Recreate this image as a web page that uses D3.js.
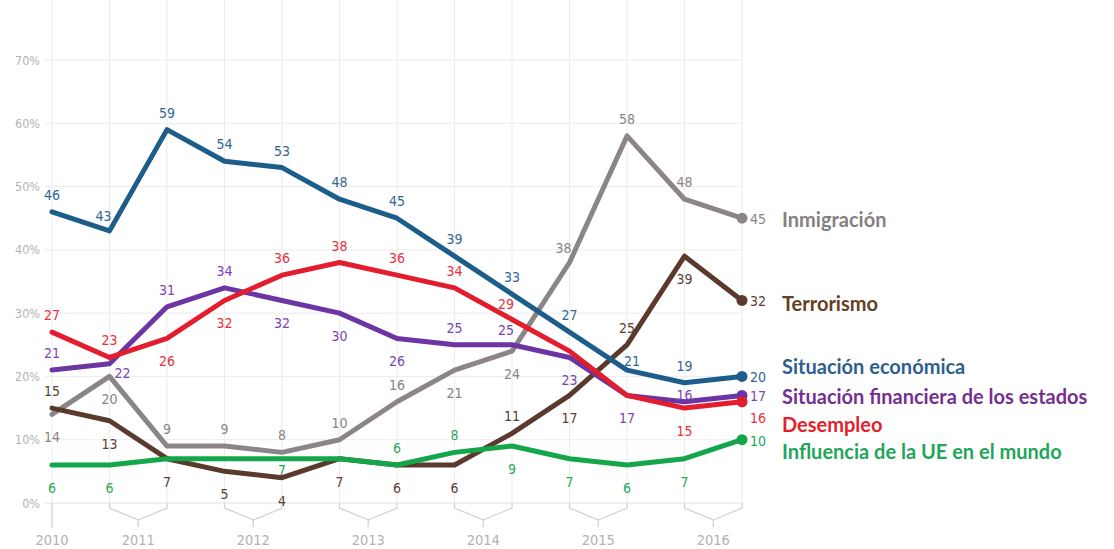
<!DOCTYPE html>
<html>
<head>
<meta charset="utf-8">
<script src="https://cdn.jsdelivr.net/npm/d3@7"></script>
<style>
  html, body { margin: 0; padding: 0; background: #fff; }
  svg { display: block; }
  .num { font-family: "DejaVu Sans Condensed", "DejaVu Sans", sans-serif; font-size: 14px; }
  .tick-lbl { font-family: "DejaVu Sans Condensed", "DejaVu Sans", sans-serif; fill: #b3b3b3; }
  .legend-lbl { font-family: Lato, "Open Sans", sans-serif; font-weight: 700; font-size: 20px; }
</style>
</head>
<body>
<div id="chart"></div>
<script>
// ---- data ----
const periods = ["2010", "2011a", "2011b", "2012a", "2012b", "2013a", "2013b",
                 "2014a", "2014b", "2015a", "2015b", "2016a", "2016b"];
const yearLabels = ["2010", "2011", "2012", "2013", "2014", "2015", "2016"];
const yearGroups = [["2010"], ["2011a", "2011b"], ["2012a", "2012b"], ["2013a", "2013b"],
                    ["2014a", "2014b"], ["2015a", "2015b"], ["2016a", "2016b"]];
const yTicks = [0, 10, 20, 30, 40, 50, 60, 70];

const inmigracion = [14, 20, 9, 9, 8, 10, 16, 21, 24, 38, 58, 48, 45];
const terrorismo  = [15, 13, 7, 5, 4, 7, 6, 6, 11, 17, 25, 39, 32];
const financiera  = [21, 22, 31, 34, 32, 30, 26, 25, 25, 23, 17, 16, 17];
const desempleo   = [27, 23, 26, 32, 36, 38, 36, 34, 29, 24, 17, 15, 16];
const economica   = [46, 43, 59, 54, 53, 48, 45, 39, 33, 27, 21, 19, 20];
const influencia  = [6, 6, 7, 7, 7, 7, 6, 8, 9, 7, 6, 7, 10];

// where each value label sits relative to its point
const placeInm  = ["b", "b", "a", "a", "a", "a", "a", "b", "b", "al", "a", "a", "r"];
const placeTer  = ["a", "b", "b", "b", "b", "b", "b", "b", "a", "b", "a", "b", "r"];
const placeFin  = ["a", "br", "a", "a", "b", "b", "b", "a", "al", "b", "b", "o", "r"];
const placeDes  = ["a", "a", "b", "b", "a", "a", "a", "a", "al", "", "", "b", "rb"];
const placeEco  = ["a", "al", "a", "a", "a", "a", "a", "a", "a", "a", "ar", "a", "r"];
const placeInf  = ["b", "b", "", "", "o2", "", "a", "a", "b", "b", "b", "b", "r"];

const series = [
  { name: "Inmigración", values: inmigracion, place: placeInm, line: "#8c8588", text: "#8a8386", legend: "#858083", legendDy: 1 },
  { name: "Terrorismo", values: terrorismo, place: placeTer, line: "#5a3a2c", text: "#5b4036", legend: "#64401f", legendDy: 3 },
  { name: "Situación financiera de los estados", values: financiera, place: placeFin, line: "#6b35a3", text: "#7846b0", legend: "#74308f", legendDy: 1 },
  { name: "Desempleo", values: desempleo, place: placeDes, line: "#e31d2d", text: "#e6323e", legend: "#e41f2c", legendDy: 22 },
  { name: "Situación económica", values: economica, place: placeEco, line: "#1d5d8b", text: "#2e6695", legend: "#2c5f8e", legendDy: -10 },
  { name: "Influencia de la UE en el mundo", values: influencia, place: placeInf, line: "#13a64a", text: "#27a95a", legend: "#1fa65a", legendDy: 11 }
];

// ---- layout ----
const width = 1114, height = 549;
const offsets = {
  a: [0, -17], al: [-6, -15], ar: [5, -9], b: [0, 23], br: [13, 9],
  o: [0, -7], o2: [0, 11], r: [8, 1], rb: [8, 16]
};

const svg = d3.select("#chart").append("svg")
  .attr("width", width).attr("height", height);

const x = d3.scalePoint().domain(periods).range([52, 742]);
const y = d3.scaleLinear().domain([0, 70]).range([503, 60]);

// grid
const grid = svg.append("g");
grid.selectAll("line.v").data(periods).join("line")
  .attr("x1", d => x(d)).attr("x2", d => x(d))
  .attr("y1", 0).attr("y2", y(0))
  .attr("stroke", "#ececec").attr("stroke-width", 1);
grid.selectAll("line.h").data(yTicks).join("line")
  .attr("x1", 45).attr("x2", x(periods[periods.length - 1]))
  .attr("y1", d => y(d)).attr("y2", d => y(d))
  .attr("stroke", d => d === 0 ? "#e2e2e2" : "#ececec").attr("stroke-width", 1);

svg.append("g").selectAll("text").data(yTicks).join("text")
  .attr("class", "tick-lbl")
  .attr("x", 40).attr("y", d => y(d))
  .attr("text-anchor", "end").attr("dominant-baseline", "central")
  .attr("font-size", 12.5).attr("fill", "#aaaaaa")
  .text(d => d + "%");

// x axis brackets
const xAx = svg.append("g");
yearGroups.forEach((grp, i) => {
  const xs = grp.map(p => x(p));
  const mid = d3.mean(xs);
  let d;
  if (xs.length === 1) {
    d = `M${xs[0]},${y(0)}V${y(0) + 25}`;
  } else {
    d = `M${xs[0]},${y(0)}V${y(0) + 5}L${mid},${y(0) + 17}V${y(0) + 24}` +
        `M${xs[1]},${y(0)}V${y(0) + 5}L${mid},${y(0) + 17}`;
  }
  xAx.append("path").attr("d", d).attr("fill", "none")
    .attr("stroke", "#d3d3d3").attr("stroke-width", 1.3);
  xAx.append("text").attr("class", "tick-lbl")
    .attr("x", mid).attr("y", 540)
    .attr("text-anchor", "middle").attr("dominant-baseline", "central")
    .attr("font-size", 14.5).attr("fill", "#9a9a9a")
    .text(yearLabels[i]);
});

// lines
const line = d3.line().x((d, i) => x(periods[i])).y(d => y(d));
const linesG = svg.append("g");
series.forEach(s => {
  linesG.append("path")
    .datum(s.values)
    .attr("d", line)
    .attr("fill", "none")
    .attr("stroke", s.line)
    .attr("stroke-width", 5)
    .attr("stroke-linejoin", "round")
    .attr("stroke-linecap", "round");
  const last = s.values.length - 1;
  linesG.append("circle")
    .attr("cx", x(periods[last])).attr("cy", y(s.values[last]))
    .attr("r", 5.5).attr("fill", s.line);
});

// value labels
const lbls = svg.append("g");
series.forEach(s => {
  s.values.forEach((v, i) => {
    const p = s.place[i];
    if (!p) return;
    const [dx, dy] = offsets[p];
    const right = p === "r" || p === "rb";
    lbls.append("text")
      .attr("class", "num")
      .attr("x", x(periods[i]) + dx)
      .attr("y", y(v) + dy)
      .attr("text-anchor", right ? "start" : "middle")
      .attr("dominant-baseline", "central")
      .attr("fill", s.text)
      .text(v);
  });
});

// legend labels at the right
const legG = svg.append("g");
series.forEach(s => {
  const last = s.values.length - 1;
  legG.append("text")
    .attr("class", "legend-lbl")
    .attr("x", 782)
    .attr("y", y(s.values[last]) + s.legendDy)
    .attr("dominant-baseline", "central")
    .attr("fill", s.legend)
    .text(s.name);
});
</script>
</body>
</html>
